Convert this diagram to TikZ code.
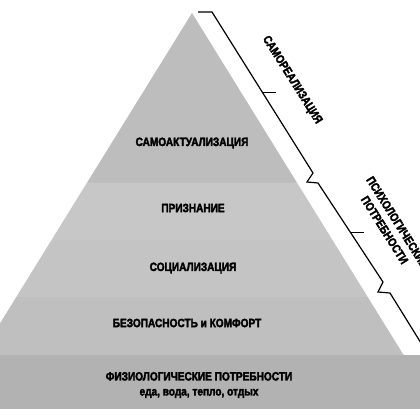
\documentclass[tikz,border=0pt]{standalone}
\usepackage{fontspec}
\setmainfont{Liberation Sans}
\newfontfamily\heavyfont[FakeBold=2.6,FakeStretch=0.84]{Liberation Sans}
\usepackage{tikz}
\usetikzlibrary{calc}
\definecolor{tierA}{gray}{0.74}
\definecolor{tierB}{gray}{0.78}
\definecolor{tierC}{gray}{0.77}
\definecolor{tierD}{gray}{0.75}
\definecolor{tierE}{gray}{0.70}

\begin{document}
\begin{tikzpicture}[x=1pt,y=-1pt,
    tier/.style={font=\heavyfont\fontsize{12}{15}\selectfont\bfseries, text=black, inner sep=0pt},
    brace/.style={line width=1.2pt, black, line join=miter},
    bracelabel/.style={tier, align=center, rotate=-57.8}]
  \useasboundingbox (0,0) rectangle (420,420);
  \clip (0,0) rectangle (420,420);

  % --- pyramid bands, clipped to the triangle ---
  \begin{scope}
  \clip (192,13) -- (437,409) -- (-53,409) -- cycle;
  \fill[tierA] (-60,0) rectangle (480,183);
  \fill[tierB] (-60,183) rectangle (480,240);
  \fill[tierC] (-60,240) rectangle (480,297);
  \fill[tierD] (-60,297) rectangle (480,355);
  \end{scope}

  % --- base band: full width ---
  \fill[tierE] (0,355) rectangle (420,409);

  % level names
  \node[tier] (selfact) at (192,143) {САМОАКТУАЛИЗАЦИЯ};
  \node[tier] (esteem) at (193,208) {ПРИЗНАНИЕ};
  \node[tier] (social) at (193,268) {СОЦИАЛИЗАЦИЯ};
  \node[tier] (safety) at (187,323) {БЕЗОПАСНОСТЬ и КОМФОРТ};
  \node[tier, align=center] (physio) at (199,385)
    {ФИЗИОЛОГИЧЕСКИЕ ПОТРЕБНОСТИ\\еда, вода, тепло, отдых};

  % --- braces along the right edge ---
  \coordinate (b1top) at (212,12);
  \coordinate (b1bot) at (313,173);
  \coordinate (b2top) at (318,183);
  \coordinate (b2bot) at (383,282);
  \coordinate (b3top) at (390,293);

  \draw[brace] (198,12) -- (b1top) -- (b1bot) -- (307,182) -- (b2top) -- (b2bot)
    -- (378,292) -- (b3top) -- ($(b3top)+(31,50)$);
  \draw[brace] ($(b1top)!0.5!(b1bot)$) -- +(13,0);
  \draw[brace] ($(b2top)!0.5!(b2bot)$) -- +(13,0);

  \node[bracelabel] (selfreal) at (292,80) {САМОРЕАЛИЗАЦИЯ};
  \node[bracelabel] (psych) at (391,226) {ПСИХОЛОГИЧЕСКИЕ\\ПОТРЕБНОСТИ};
\end{tikzpicture}
\end{document}
